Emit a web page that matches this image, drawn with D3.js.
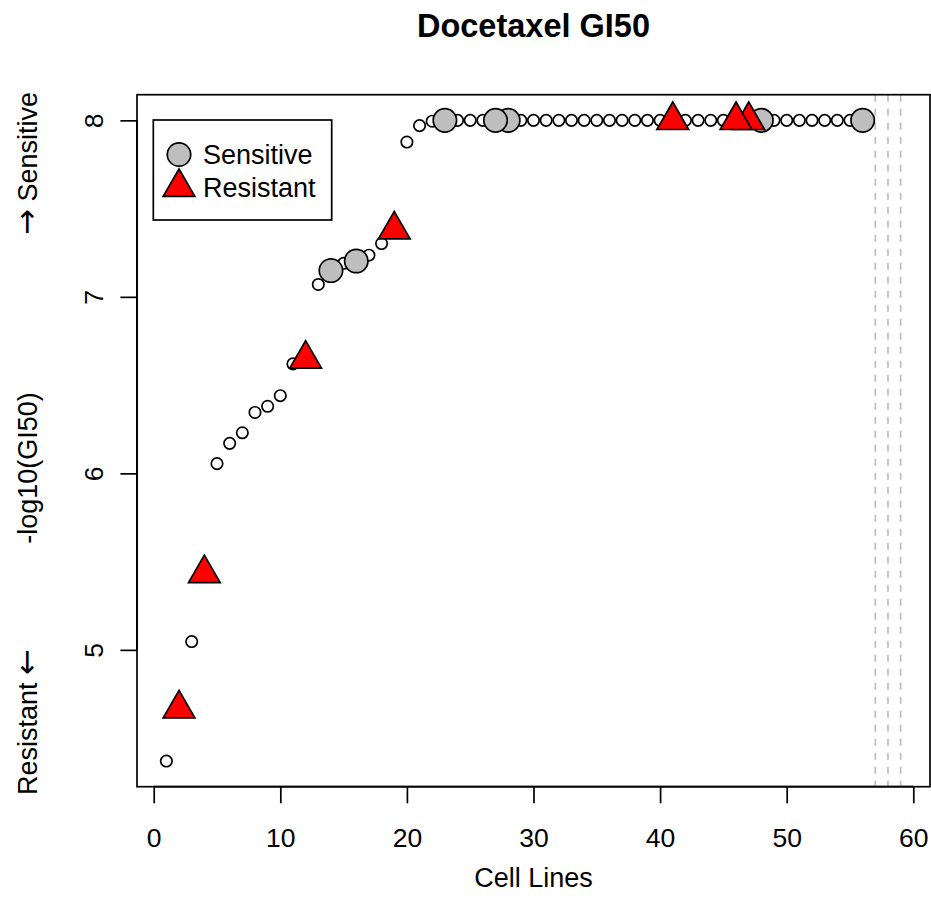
<!DOCTYPE html>
<html>
<head>
<meta charset="utf-8">
<script src="https://cdn.jsdelivr.net/npm/d3@7"></script>
<style>
	body { margin: 0; background: #fff; overflow: hidden; }
	svg { display: block; }
	text { font-family: "Liberation Sans", Arial, Helvetica, sans-serif; }
</style>
</head>
<body>
<svg id="chart"></svg>
<script>

	// data: one -log10(GI50) value per cell line (sorted), null = missing
	var cellLines = [1, 2, 3, 4, 5, 6, 7, 8, 9, 10, 11, 12, 13, 14, 15, 16, 17, 18, 19, 20,
		21, 22, 23, 24, 25, 26, 27, 28, 29, 30, 31, 32, 33, 34, 35, 36, 37, 38, 39, 40,
		41, 42, 43, 44, 45, 46, 47, 48, 49, 50, 51, 52, 53, 54, 55, 56, 57, 58, 59];

	var gi50 = [4.37, 4.667, 5.047, 5.433, 6.055, 6.17, 6.23, 6.345, 6.38, 6.44,
		6.62, 6.648, 7.07, 7.149, 7.19, 7.203, 7.236, 7.302, 7.38, 7.877,
		7.97, 7.995, 8, 8, 8, 8, 8, 8, 8, 8,
		8, 8, 8, 8, 8, 8, 8, 8, 8, 8,
		8, 8, 8, 8, 8, 8, 8, 8, 8, 8,
		8, 8, 8, 8, 8, 8, null, null, null];

	var sensitive = [56, 48, 28, 27, 23, 16, 14];
	var resistant = [47, 46, 41, 19, 12, 4, 2];

	var xTicks = [0, 10, 20, 30, 40, 50, 60];
	var yTicks = [5, 6, 7, 8];

(function() {

	var width = 931,
		height = 917,
		lw = 1.7;

	var svg = d3.select("#chart")
		.attr("width", width)
		.attr("height", height)

	var points = cellLines.map(function(d, i) { return { line: d, value: gi50[i] }; });
	var valid = points.filter(function(d) { return d.value !== null; });
	var missing = points.filter(function(d) { return d.value === null; });

	// R style 4% padding around the data range
	var xExt = d3.extent(cellLines),
		yExt = d3.extent(valid, function(d) { return d.value; }),
		xPad = (xExt[1] - xExt[0]) * 0.04,
		yPad = (yExt[1] - yExt[0]) * 0.04;

	var pLeft = 137, pRight = 930, pTop = 94.7, pBottom = 786.7;

	var x = d3.scaleLinear()
		.domain([xExt[0] - xPad, xExt[1] + xPad])
		.range([pLeft, pRight]);

	var y = d3.scaleLinear()
		.domain([yExt[0] - yPad, yExt[1] + yPad])
		.range([pBottom, pTop]);

	function valueOf(line) {
		return gi50[cellLines.indexOf(line)];
	}

	function triangle(cx, cy, r) {
		return "M" + cx + "," + (cy - r) +
			"L" + (cx + 0.866 * r) + "," + (cy + r / 2) +
			"L" + (cx - 0.866 * r) + "," + (cy + r / 2) + "Z";
	}

	// missing cell lines
	svg.selectAll("line.na")
		.data(missing)
		.enter().append("line")
		.attr("class", "na")
		.attr("x1", function(d) { return x(d.line); })
		.attr("x2", function(d) { return x(d.line); })
		.attr("y1", pTop)
		.attr("y2", pBottom)
		.style("stroke", "#bebebe")
		.style("stroke-width", lw)
		.style("stroke-dasharray", "7,7")

	// x axis
	var xAxis = d3.axisBottom(x).tickValues(xTicks).tickSize(16.6).tickPadding(0).tickFormat(d3.format("d"));

	var gx = svg.append("g")
		.attr("transform", "translate(0," + pBottom + ")")
		.call(xAxis);

	gx.select(".domain")
		.attr("d", "M" + x(xTicks[0]) + ",0H" + x(xTicks[xTicks.length - 1]))
		.style("stroke", "#000")
		.style("stroke-width", lw);

	gx.selectAll(".tick line").style("stroke", "#000").style("stroke-width", lw);
	gx.selectAll(".tick text")
		.attr("y", 60)
		.attr("dy", null)
		.style("font-size", "26.5px")
		.style("fill", "#000");

	// y axis
	var yAxis = d3.axisLeft(y).tickValues(yTicks).tickSize(16.6).tickFormat(d3.format("d"));

	var gy = svg.append("g")
		.attr("transform", "translate(" + pLeft + ",0)")
		.call(yAxis);

	gy.select(".domain")
		.attr("d", "M0," + y(yTicks[0]) + "V" + y(yTicks[yTicks.length - 1]))
		.style("stroke", "#000")
		.style("stroke-width", lw);

	gy.selectAll(".tick line").style("stroke", "#000").style("stroke-width", lw);
	gy.selectAll(".tick text")
		.attr("x", null)
		.attr("dy", null)
		.attr("transform", "translate(-34,0) rotate(-90)")
		.style("text-anchor", "middle")
		.style("font-size", "26.5px")
		.style("fill", "#000");

	// plot box
	svg.append("rect")
		.attr("x", pLeft)
		.attr("y", pTop)
		.attr("width", pRight - pLeft)
		.attr("height", pBottom - pTop)
		.style("fill", "none")
		.style("stroke", "#000")
		.style("stroke-width", lw);

	// all cell lines
	svg.selectAll("circle.pt")
		.data(valid)
		.enter().append("circle")
		.attr("class", "pt")
		.attr("cx", function(d) { return x(d.line); })
		.attr("cy", function(d) { return y(d.value); })
		.attr("r", 5.7)
		.style("fill", "#fff")
		.style("stroke", "#000")
		.style("stroke-width", lw);

	// sensitive
	svg.selectAll("circle.sens")
		.data(sensitive)
		.enter().append("circle")
		.attr("class", "sens")
		.attr("cx", function(d) { return x(d); })
		.attr("cy", function(d) { return y(valueOf(d)); })
		.attr("r", 11.7)
		.style("fill", "#bebebe")
		.style("stroke", "#000")
		.style("stroke-width", lw);

	// resistant
	svg.selectAll("path.res")
		.data(resistant)
		.enter().append("path")
		.attr("class", "res")
		.attr("d", function(d) { return triangle(x(d), y(valueOf(d)), 18.3); })
		.style("fill", "#ff0000")
		.style("stroke", "#000")
		.style("stroke-width", lw)
		.style("stroke-linejoin", "miter");

	// legend
	var legend = svg.append("g");

	legend.append("rect")
		.attr("x", 153.3)
		.attr("y", 120)
		.attr("width", 178.4)
		.attr("height", 100)
		.style("fill", "#fff")
		.style("stroke", "#000")
		.style("stroke-width", lw);

	legend.append("circle")
		.attr("cx", 179)
		.attr("cy", 154.5)
		.attr("r", 11.7)
		.style("fill", "#bebebe")
		.style("stroke", "#000")
		.style("stroke-width", lw);

	legend.append("path")
		.attr("d", triangle(179, 187.3, 18.3))
		.style("fill", "#ff0000")
		.style("stroke", "#000")
		.style("stroke-width", lw);

	legend.selectAll("text")
		.data(["Sensitive", "Resistant"])
		.enter().append("text")
		.attr("x", 203)
		.attr("y", function(d, i) { return 164 + i * 32.7; })
		.style("font-size", "27px")
		.text(function(d) { return d; });

	// titles
	svg.append("text")
		.attr("x", (pLeft + pRight) / 2)
		.attr("y", 37.3)
		.style("text-anchor", "middle")
		.style("font-size", "32.5px")
		.style("font-weight", "bold")
		.text("Docetaxel GI50");

	svg.append("text")
		.attr("x", (pLeft + pRight) / 2)
		.attr("y", 887)
		.style("text-anchor", "middle")
		.style("font-size", "27px")
		.text("Cell Lines");

	var ylab = svg.append("g")
		.style("font-size", "27px");

	var lo = ylab.append("text")
		.attr("transform", "translate(36.7,795) rotate(-90)")
		.style("text-anchor", "start");
	lo.append("tspan").text("Resistant ");
	lo.append("tspan").style("font-family", "DejaVu Sans").style("font-size", "31px").text("\u2190");

	ylab.append("text")
		.attr("transform", "translate(36.7,468) rotate(-90)")
		.style("text-anchor", "middle")
		.text("-log10(GI50)");

	var hi = ylab.append("text")
		.attr("transform", "translate(36.7,92) rotate(-90)")
		.style("text-anchor", "end");
	hi.append("tspan").style("font-family", "DejaVu Sans").style("font-size", "31px").text("\u2192");
	hi.append("tspan").text(" Sensitive");

})();

</script>
</body>
</html>
